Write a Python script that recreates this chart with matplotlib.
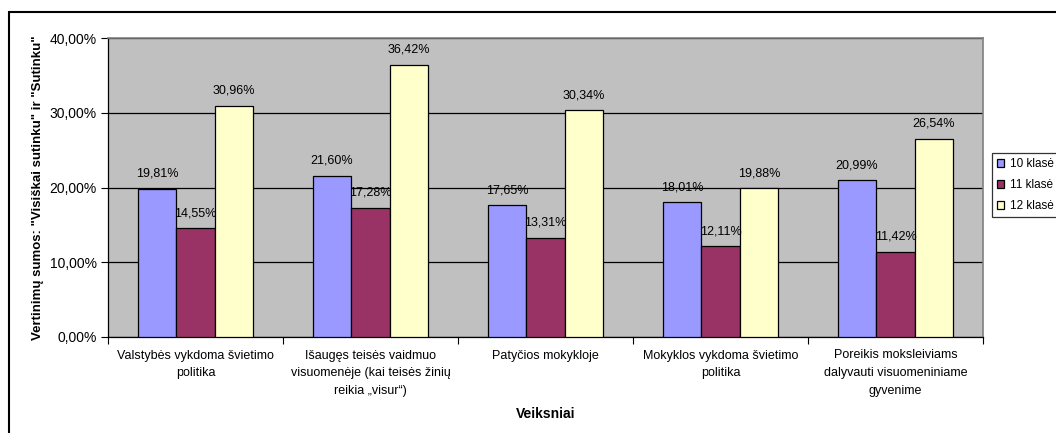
import matplotlib.pyplot as plt
from matplotlib.patches import Rectangle
import numpy as np

plt.rcParams['font.family'] = ['Liberation Sans', 'DejaVu Sans']

# data
categories = [
    "Valstybės vykdoma švietimo\npolitika",
    "Išaugęs teisės vaidmuo\nvisuomenėje (kai teisės žinių\nreikia „visur“)",
    "Patyčios mokykloje",
    "Mokyklos vykdoma švietimo\npolitika",
    "Poreikis moksleiviams\ndalyvauti visuomeniniame\ngyvenime",
]
series_names = ["10 klasė", "11 klasė", "12 klasė"]
kl10 = [19.81, 21.60, 17.65, 18.01, 20.99]
kl11 = [14.55, 17.28, 13.31, 12.11, 11.42]
kl12 = [30.96, 36.42, 30.34, 19.88, 26.54]
colors = ["#9999FF", "#993366", "#FFFFCC"]

fig = plt.figure(figsize=(10.56, 4.33), dpi=100)
ax = fig.add_axes([108 / 1056, 1 - 337 / 433, 875 / 1056, 299 / 433])
ax.set_facecolor("#C0C0C0")

x = np.arange(len(categories))
w = 0.22
for i, (vals, name, c) in enumerate(zip([kl10, kl11, kl12], series_names, colors)):
    pos = x + (i - 1) * w
    ax.bar(pos, vals, w, color=c, edgecolor="black", linewidth=0.9,
           label=name, zorder=3)
    for p, v in zip(pos, vals):
        ax.text(p, v + 2.0, f"{v:.2f}%".replace(".", ","), ha="center",
                va="center", fontsize=9, zorder=4)

ax.set_xlim(-0.5, len(categories) - 0.5)
ax.set_ylim(0, 40)
ax.set_yticks([0, 10, 20, 30, 40])
ax.set_yticklabels([f"{t:.2f}%".replace(".", ",") for t in [0, 10, 20, 30, 40]],
                   fontsize=10)
ax.yaxis.grid(True, color="black", linewidth=0.9, zorder=0)
ax.set_axisbelow(True)

ax.set_xticks(np.arange(len(categories) + 1) - 0.5)
ax.set_xticklabels([])
ax.set_xticks(x, minor=True)
ax.set_xticklabels(categories, minor=True, fontsize=9, linespacing=1.65)
ax.tick_params(axis="x", which="minor", length=0, pad=9)
ax.tick_params(axis="x", which="major", length=5, direction="out")
ax.tick_params(axis="y", length=5, direction="out", pad=3)

for s in ["top", "right"]:
    ax.spines[s].set_color("#808080")
    ax.spines[s].set_linewidth(1.2)
for s in ["left", "bottom"]:
    ax.spines[s].set_color("black")
    ax.spines[s].set_linewidth(0.9)

ax.set_ylabel('Vertinimų sumos: "Visiškai sutinku" ir "Sutinku"',
              fontsize=9.5, fontweight="bold")
ax.yaxis.set_label_coords(-64 / 875, 0.5)
fig.text(546 / 1056, 1 - 414 / 433, "Veiksniai", ha="center", va="center",
         fontsize=10, fontweight="bold")

leg = fig.legend(loc="upper left", bbox_to_anchor=(992 / 1056, 1 - 153 / 433),
                 fontsize=8.5, frameon=True, fancybox=False, edgecolor="black",
                 handlelength=0.6, handleheight=0.6, handletextpad=0.45,
                 labelspacing=0.75, borderpad=0.45, borderaxespad=0)
leg.get_frame().set_linewidth(0.9)

# outer chart frame (bottom and right lie outside the picture)
fig.patches.append(Rectangle((8.5 / 1056, -0.1), 1.2, 1.1 - 12.5 / 433,
                             transform=fig.transFigure, fill=False,
                             edgecolor="black", linewidth=1.5))

fig.savefig("out.png", dpi=100)
